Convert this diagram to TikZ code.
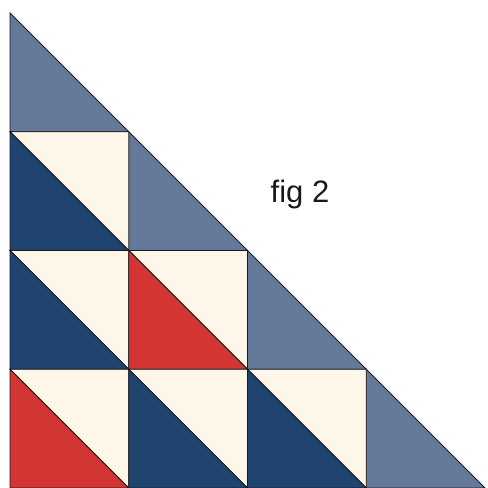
\documentclass[tikz,border=0pt]{standalone}
\usepackage{fontspec}
\setmainfont{Liberation Sans}
\definecolor{slate}{HTML}{64789A}
\definecolor{navy}{HTML}{1F4470}
\definecolor{quiltred}{HTML}{D33535}
\definecolor{cream}{HTML}{FEF6E8}
\definecolor{edge}{HTML}{1A1A1A}
\begin{document}
\begin{tikzpicture}[x=1pt,y=-1pt,line join=miter,
  piece/.style={draw=edge,line width=0.8pt}]
\useasboundingbox (0,0) rectangle (488,488);
\def\sz{118.75}
\def\ox{10}
\def\oy{13}
% half-square (colored lower-left, cream upper-right)
\newcommand{\hst}[3]{% row, col, color
  \pgfmathsetmacro{\xa}{\ox+#2*\sz}\pgfmathsetmacro{\xb}{\ox+(#2+1)*\sz}
  \pgfmathsetmacro{\ya}{\oy+#1*\sz}\pgfmathsetmacro{\yb}{\oy+(#1+1)*\sz}
  \filldraw[piece,fill=cream] (\xa,\ya) -- (\xb,\ya) -- (\xb,\yb) -- cycle;
  \filldraw[piece,fill=#3] (\xa,\ya) -- (\xb,\yb) -- (\xa,\yb) -- cycle;
}
\newcommand{\edgetri}[2]{% row, col : slate border triangle
  \pgfmathsetmacro{\xa}{\ox+#2*\sz}\pgfmathsetmacro{\xb}{\ox+(#2+1)*\sz}
  \pgfmathsetmacro{\ya}{\oy+#1*\sz}\pgfmathsetmacro{\yb}{\oy+(#1+1)*\sz}
  \filldraw[piece,fill=slate] (\xa,\ya) -- (\xb,\yb) -- (\xa,\yb) -- cycle;
}
\edgetri{0}{0}
\edgetri{1}{1}
\edgetri{2}{2}
\edgetri{3}{3}
\hst{1}{0}{navy}
\hst{2}{0}{navy}
\hst{2}{1}{quiltred}
\hst{3}{0}{quiltred}
\hst{3}{1}{navy}
\hst{3}{2}{navy}
\node[anchor=base,inner sep=0pt,font=\fontsize{31}{36}\selectfont,text=black!90] (label) at (300,202.7) {fig 2};
\end{tikzpicture}
\end{document}
